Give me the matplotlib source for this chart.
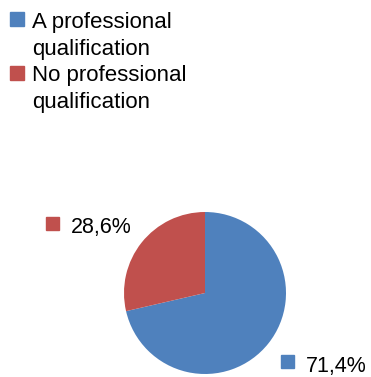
import matplotlib.pyplot as plt
from matplotlib.patches import Rectangle

# Pie data
labels = ['A professional\nqualification', 'No professional\nqualification']
values = [71.4, 28.6]
colors = ['#4F81BD', '#C0504D']
value_labels = ['71,4%', '28,6%']

plt.rcParams['font.family'] = ['Liberation Sans', 'DejaVu Sans']

W, H = 371, 377
fig = plt.figure(figsize=(W / 100, H / 100), dpi=100)

# pie axes: centre (205, 293) px, radius 81 px
cx, cy, r = 205, 293, 81
ax = fig.add_axes([(cx - r) / W, (H - cy - r) / H, 2 * r / W, 2 * r / H])
ax.pie(values, colors=colors, startangle=90, counterclock=False,
       wedgeprops=dict(linewidth=0))
ax.set_xlim(-1, 1)
ax.set_ylim(-1, 1)
ax.set_aspect('equal')
ax.axis('off')

# legend (top-left): square top y, first baseline y (pixels)
legend_pos = [(12, 28), (66, 81)]
for (sq_y, base_y), lab, c in zip(legend_pos, labels, colors):
    fig.patches.append(Rectangle((10 / W, 1 - (sq_y + 14) / H), 14 / W, 14 / H,
                                 transform=fig.transFigure, color=c))
    for i, line in enumerate(lab.split('\n')):
        fig.text(32 / W, 1 - (base_y + 27 * i) / H, line, fontsize=16,
                 va='baseline', ha='left', color='black')

# data labels: square x, square top y, text baseline y (pixels)
label_pos = [(281, 355, 372), (46, 217, 233)]
for (x, sq_y, base_y), lab, c in zip(label_pos, value_labels, colors):
    fig.patches.append(Rectangle((x / W, 1 - (sq_y + 13) / H), 13 / W, 13 / H,
                                 transform=fig.transFigure, color=c))
    fig.text((x + 25) / W, 1 - base_y / H, lab, fontsize=15.5, va='baseline',
             ha='left', color='black')

plt.savefig('out.png', dpi=100)
